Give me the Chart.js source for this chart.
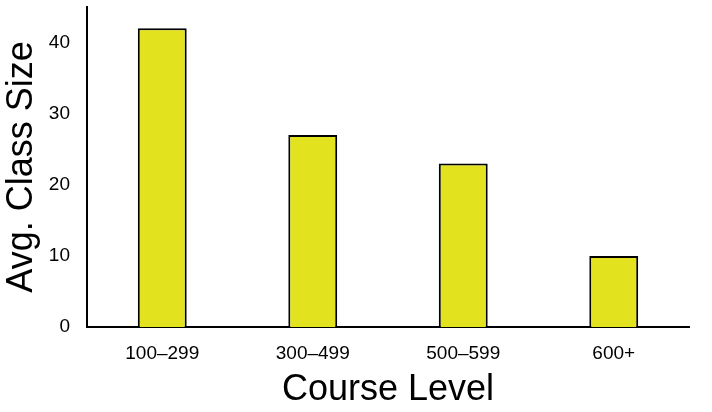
<!DOCTYPE html>
<html>
<head>
<meta charset="utf-8">
<script src="https://cdn.jsdelivr.net/npm/chart.js@4.4.1/dist/chart.umd.min.js"></script>
<style>
html,body{margin:0;padding:0;background:#fff;}
#wrap{width:712px;height:412px;position:relative;}
</style>
</head>
<body>
<div id="wrap"><canvas id="c" width="712" height="412"></canvas></div>
<script>
const categories = ["100\u2013299", "300\u2013499", "500\u2013599", "600+"];
const avgClassSize = [42, 27, 23, 10];
const yTicks = [0, 10, 20, 30, 40];

new Chart(document.getElementById('c'), {
  type: 'bar',
  data: {
    labels: categories,
    datasets: [{
      data: avgClassSize,
      backgroundColor: '#e2e21e',
      borderColor: '#000',
      borderWidth: 2,
      barPercentage: 0.325,
      categoryPercentage: 1.0
    }]
  },
  options: {
    responsive: false,
    animation: false,
    devicePixelRatio: 1,
    layout: { padding: { top: 7, right: 23, left: 0, bottom: 0 } },
    plugins: { legend: { display: false }, tooltip: { enabled: false } },
    scales: {
      x: {
        grid: { display: false, drawTicks: false },
        border: { display: true, color: '#000', width: 2 },
        ticks: { color: '#000', font: { family: 'Liberation Sans', size: 19 }, padding: 15 },
        title: { display: true, text: 'Course Level', color: '#000', font: { family: 'Liberation Sans', size: 36 }, padding: { top: 4, bottom: 0 } },
        afterFit: (s) => { s.height = 85; s.paddingLeft = 0; s.paddingRight = 0; }
      },
      y: {
        min: 0,
        max: 45,
        afterBuildTicks: (axis) => { axis.ticks = yTicks.map(v => ({ value: v })); },
        grid: { display: false, drawTicks: false },
        border: { display: true, color: '#000', width: 2 },
        ticks: { color: '#000', font: { family: 'Liberation Sans', size: 19 }, padding: 17 },
        title: { display: true, text: 'Avg. Class Size', color: '#000', font: { family: 'Liberation Sans', size: 36 }, padding: { top: 0, bottom: 0 } },
        afterFit: (s) => { s.width = 87; s.paddingTop = 0; s.paddingBottom = 0; }
      }
    }
  }
});
</script>
</body>
</html>
